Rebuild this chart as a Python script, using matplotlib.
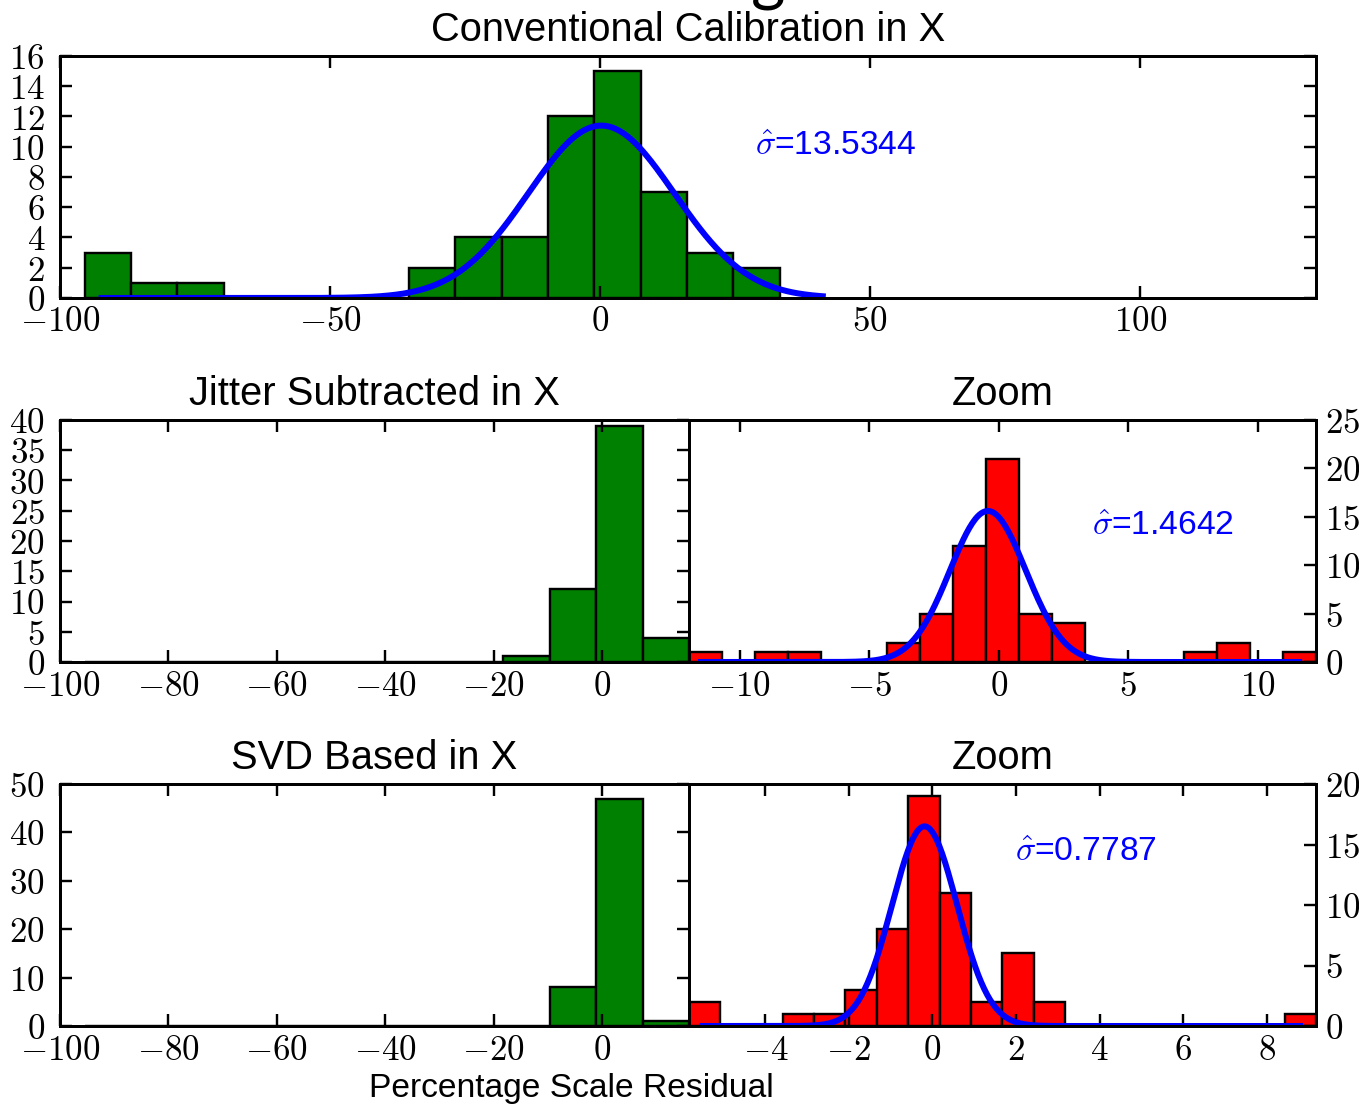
import numpy as np
import matplotlib
matplotlib.use('Agg')
import matplotlib.pyplot as plt
from matplotlib.ticker import FuncFormatter

# Histogram bins and counts
# (the three full-range panels share one set of bins)
FULL_EDGES = np.linspace(-95.4, 33.2, 16)
CONV_COUNTS = [3, 1, 1, 0, 0, 0, 0, 2, 4, 4, 12, 15, 7, 3, 2]
JITTER_COUNTS = [0, 0, 0, 0, 0, 0, 0, 0, 0, 1, 12, 39, 4, 0, 0]
SVD_COUNTS = [0, 0, 0, 0, 0, 0, 0, 0, 0, 0, 8, 47, 1, 0, 0]

JITTER_ZOOM_EDGES = np.linspace(-11.98, 12.25, 20)
JITTER_ZOOM_COUNTS = [1, 0, 1, 1, 0, 0, 2, 5, 12, 21, 5, 4, 0, 0, 0, 1, 2, 0, 1]

SVD_ZOOM_EDGES = np.linspace(-5.84, 9.18, 21)
SVD_ZOOM_COUNTS = [2, 0, 0, 1, 1, 3, 8, 19, 11, 2, 6, 2, 0, 0, 0, 0, 0, 0, 0, 1]

# gaussian fits: (amplitude, mean, sigma, x start, x end)
CONV_FIT = (11.4, 0.2, 13.5344, -92.3, 41.2)
JITTER_FIT = (15.6, -0.42, 1.4642, -11.5, 11.6)
SVD_FIT = (16.5, -0.19, 0.7787, -5.5, 8.8)

SIGMA_LABELS = ['13.5344', '1.4642', '0.7787']

plt.rcParams['font.family'] = ['Liberation Sans', 'DejaVu Sans']
plt.rcParams['mathtext.fontset'] = 'cm'
plt.rcParams['xtick.direction'] = 'in'
plt.rcParams['ytick.direction'] = 'in'
plt.rcParams['xtick.major.size'] = 4
plt.rcParams['ytick.major.size'] = 4
plt.rcParams['xtick.major.pad'] = 2.5
plt.rcParams['ytick.major.pad'] = 5
plt.rcParams['xtick.labelsize'] = 11.7
plt.rcParams['ytick.labelsize'] = 11.7
plt.rcParams['axes.linewidth'] = 1.0

W, H = 1359, 1106
DPI = 216
fig = plt.figure(figsize=(W / DPI, H / DPI), dpi=DPI, facecolor='white')

LEFT = 60 / W
RIGHT = 1316 / W
MID = 688.5 / W
AX_H = 242 / H
TOPS = [56, 420, 784]


def fig_rect(x0, x1, top_px):
    bottom = 1 - (top_px + 242) / H
    return [x0, bottom, x1 - x0, AX_H]


math_fmt = FuncFormatter(lambda v, pos: r'$%g$' % v)


def style_axes(ax, xticks, yticks, right_labels=False):
    ax.set_xticks(xticks)
    ax.set_yticks(yticks)
    ax.xaxis.set_major_formatter(math_fmt)
    ax.yaxis.set_major_formatter(math_fmt)
    ax.tick_params(top=True, bottom=True)
    if right_labels:
        ax.tick_params(axis='y', left=False, right=True, labelleft=False,
                       labelright=True, pad=3)
    else:
        ax.tick_params(left=True, right=True)


def draw_hist(ax, edges, counts, color):
    edges = np.asarray(edges)
    ax.bar(edges[:-1], counts, width=np.diff(edges), align='edge',
           color=color, edgecolor='black', linewidth=0.8)


def draw_fit(ax, fit):
    amp, mu, sig, x0, x1 = fit
    x = np.linspace(x0, x1, 400)
    ax.plot(x, amp * np.exp(-(x - mu) ** 2 / (2 * sig ** 2)), color='blue', lw=2.0)


def sigma_text(ax, x, y, value):
    ax.text(x, y, r'$\hat{\sigma}$=' + value, transform=ax.transAxes,
            color='blue', fontsize=11.2, ha='left', va='center')


# top: conventional calibration
ax1 = fig.add_axes(fig_rect(LEFT, RIGHT, TOPS[0]))
draw_hist(ax1, FULL_EDGES, CONV_COUNTS, 'green')
draw_fit(ax1, CONV_FIT)
ax1.set_xlim(-100, 132.5)
ax1.set_ylim(0, 16)
style_axes(ax1, [-100, -50, 0, 50, 100], range(0, 17, 2))
ax1.set_title('Conventional Calibration in X', fontsize=13.3, pad=5)
sigma_text(ax1, 0.553, 0.628, SIGMA_LABELS[0])

# middle: jitter subtracted
ax2 = fig.add_axes(fig_rect(LEFT, MID, TOPS[1]))
draw_hist(ax2, FULL_EDGES, JITTER_COUNTS, 'green')
ax2.set_xlim(-100, 15.9)
ax2.set_ylim(0, 40)
style_axes(ax2, range(-100, 1, 20), range(0, 41, 5))
ax2.set_title('Jitter Subtracted in X', fontsize=13.3, pad=5)

ax2z = fig.add_axes(fig_rect(MID, RIGHT, TOPS[1]))
draw_hist(ax2z, JITTER_ZOOM_EDGES, JITTER_ZOOM_COUNTS, 'red')
draw_fit(ax2z, JITTER_FIT)
ax2z.set_xlim(JITTER_ZOOM_EDGES[0], JITTER_ZOOM_EDGES[-1])
ax2z.set_ylim(0, 25)
style_axes(ax2z, [-10, -5, 0, 5, 10], range(0, 26, 5), right_labels=True)
ax2z.set_title('Zoom', fontsize=13.3, pad=5)
sigma_text(ax2z, 0.643, 0.558, SIGMA_LABELS[1])

# bottom: svd based
ax3 = fig.add_axes(fig_rect(LEFT, MID, TOPS[2]))
draw_hist(ax3, FULL_EDGES, SVD_COUNTS, 'green')
ax3.set_xlim(-100, 15.9)
ax3.set_ylim(0, 50)
style_axes(ax3, range(-100, 1, 20), range(0, 51, 10))
ax3.set_title('SVD Based in X', fontsize=13.3, pad=5)

ax3z = fig.add_axes(fig_rect(MID, RIGHT, TOPS[2]))
draw_hist(ax3z, SVD_ZOOM_EDGES, SVD_ZOOM_COUNTS, 'red')
draw_fit(ax3z, SVD_FIT)
ax3z.set_xlim(SVD_ZOOM_EDGES[0], SVD_ZOOM_EDGES[-1])
ax3z.set_ylim(0, 20)
style_axes(ax3z, range(-4, 9, 2), range(0, 21, 5), right_labels=True)
ax3z.set_title('Zoom', fontsize=13.3, pad=5)
sigma_text(ax3z, 0.52, 0.715, SIGMA_LABELS[2])

fig.text(571 / W, 1 - 1088 / H, 'Percentage Scale Residual', fontsize=11.2,
         ha='center', va='center')

# slide heading that is cut off at the top of the image
fig.text(785 / W, 1 + 1.5 / H, 'First half of December running', fontsize=22,
         family=['Lato', 'DejaVu Sans'], ha='right', va='baseline')

fig.savefig('out.png', dpi=DPI, facecolor='white')
